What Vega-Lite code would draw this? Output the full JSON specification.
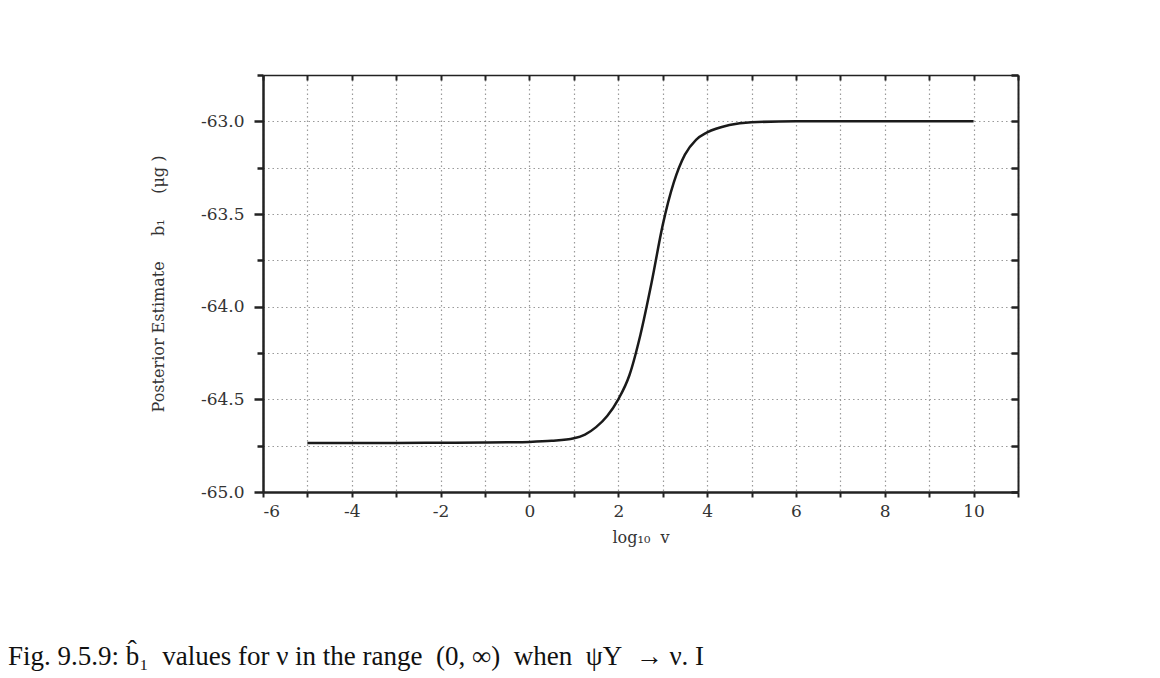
{
  "$schema": "https://vega.github.io/schema/vega-lite/v6.json",
  "autosize": {"type": "none"},
  "width": 755,
  "height": 417,
  "padding": {"left": 263, "top": 75, "right": 142, "bottom": 186},
  "background": "white",
  "title": {
    "text": "Fig. 9.5.9: b̂₁\u00a0\u00a0values for ν in the range\u00a0\u00a0(0,\u00a0∞)\u00a0\u00a0when\u00a0\u00a0ψY\u00a0\u00a0→\u00a0ν. I",
    "orient": "bottom",
    "anchor": "start",
    "frame": "group",
    "dx": -255,
    "offset": 99,
    "font": "Liberation Serif",
    "fontSize": 27,
    "fontWeight": "normal",
    "color": "#111"
  },
  "config": {
    "view": {"stroke": null},
    "axis": {
      "labelFont": "DejaVu Serif",
      "titleFont": "DejaVu Serif",
      "labelColor": "#333",
      "titleColor": "#333",
      "labelFontSize": 17,
      "titleFontSize": 16,
      "titleFontWeight": "normal",
      "gridColor": "#9a9a9a",
      "gridDash": [1.5, 3],
      "gridWidth": 1.2,
      "gridOpacity": 1,
      "tickColor": "#222",
      "domainColor": "#222"
    }
  },
  "data": {
    "values": [
      {"x": -5, "y": -64.735},
      {"x": -4, "y": -64.735},
      {"x": -3, "y": -64.735},
      {"x": -2, "y": -64.734},
      {"x": -1, "y": -64.733},
      {"x": -0.5, "y": -64.732},
      {"x": 0, "y": -64.73},
      {"x": 0.5, "y": -64.724},
      {"x": 1, "y": -64.71},
      {"x": 1.25, "y": -64.69},
      {"x": 1.5, "y": -64.65},
      {"x": 1.75, "y": -64.59},
      {"x": 2, "y": -64.5},
      {"x": 2.25, "y": -64.37},
      {"x": 2.5, "y": -64.15},
      {"x": 2.75, "y": -63.87},
      {"x": 3, "y": -63.56},
      {"x": 3.25, "y": -63.33},
      {"x": 3.5, "y": -63.18},
      {"x": 3.75, "y": -63.1},
      {"x": 4, "y": -63.06},
      {"x": 4.5, "y": -63.02},
      {"x": 5, "y": -63.005},
      {"x": 6, "y": -63.0},
      {"x": 7, "y": -63.0},
      {"x": 8, "y": -63.0},
      {"x": 9, "y": -63.0},
      {"x": 10, "y": -63.0}
    ]
  },
  "layer": [
    {
      "mark": {"type": "line", "interpolate": "monotone", "color": "#1a1a1a", "strokeWidth": 2.5},
      "encoding": {
        "x": {
          "field": "x", "type": "quantitative",
          "scale": {"domain": [-6, 11], "nice": false, "zero": false},
          "axis": {
            "orient": "bottom",
            "values": [-6, -5, -4, -3, -2, -1, 0, 1, 2, 3, 4, 5, 6, 7, 8, 9, 10, 11],
            "labelExpr": "datum.value % 2 === 0 && datum.value < 11 ? replace(format(datum.value, 'd'), '−', '-') : ''",
            "title": "log₁₀\u00a0\u00a0v",
            "titlePadding": 10,
            "labelPadding": 6,
            "domainWidth": 2.5,
            "tickSize": 5,
            "tickWidth": 2,
            "grid": true
          }
        },
        "y": {
          "field": "y", "type": "quantitative",
          "scale": {"domain": [-65, -62.75], "nice": false, "zero": false},
          "axis": {
            "orient": "left",
            "values": [-65, -64.75, -64.5, -64.25, -64, -63.75, -63.5, -63.25, -63, -62.75],
            "labelExpr": "(datum.value * 2) % 1 === 0 ? replace(format(datum.value, '.1f'), '−', '-') : ''",
            "title": "Posterior Estimate\u00a0\u00a0\u00a0\u00a0\u00a0b₁\u00a0\u00a0\u00a0\u00a0\u00a0(μg )",
            "titlePadding": 34,
            "labelPadding": 10,
            "domainWidth": 2.5,
            "tickSize": {"condition": {"test": "(datum.value * 2) % 1 === 0", "value": 9}, "value": 6},
            "tickWidth": 2.5,
            "grid": true
          }
        }
      }
    },
    {
      "mark": {"type": "line", "opacity": 0},
      "encoding": {
        "x": {
          "field": "x", "type": "quantitative",
          "axis": {
            "orient": "top",
            "values": [-6, -5, -4, -3, -2, -1, 0, 1, 2, 3, 4, 5, 6, 7, 8, 9, 10, 11],
            "labels": false,
            "title": null,
            "domainWidth": 1.5,
            "tickSize": -5,
            "tickWidth": 2,
            "grid": false
          }
        },
        "y": {
          "field": "y", "type": "quantitative",
          "axis": {
            "orient": "right",
            "values": [-65, -64.75, -64.5, -64.25, -64, -63.75, -63.5, -63.25, -63, -62.75],
            "labels": false,
            "title": null,
            "domainWidth": 2,
            "tickSize": -7,
            "tickWidth": 2.5,
            "grid": false
          }
        }
      }
    }
  ],
  "resolve": {"axis": {"x": "independent", "y": "independent"}}
}
